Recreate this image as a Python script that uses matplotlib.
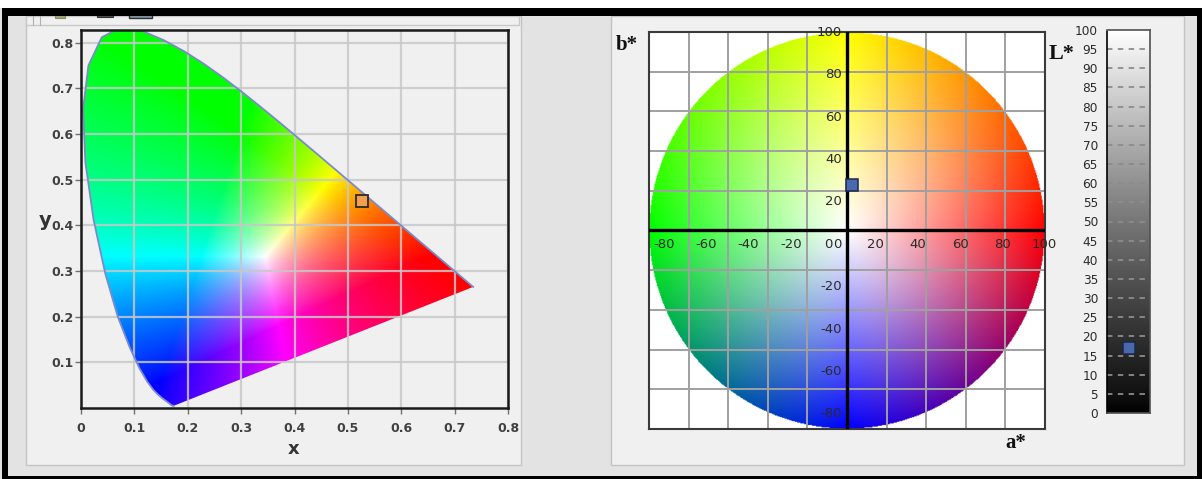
import numpy as np
import matplotlib
matplotlib.use("Agg")
import matplotlib.pyplot as plt
from matplotlib.patches import Rectangle, Polygon

# ---------------- data ----------------
# CIE 1931 spectral locus (380 nm .. 700 nm)
locus_x = [0.1741, 0.1740, 0.1738, 0.1736, 0.1733, 0.1730, 0.1726, 0.1721, 0.1714, 0.1703,
           0.1689, 0.1669, 0.1644, 0.1611, 0.1566, 0.1510, 0.1440, 0.1355, 0.1241, 0.1096,
           0.0913, 0.0687, 0.0454, 0.0235, 0.0082, 0.0039, 0.0139, 0.0389, 0.0743, 0.1142,
           0.1547, 0.1929, 0.2296, 0.2658, 0.3016, 0.3373, 0.3731, 0.4087, 0.4441, 0.4788,
           0.5125, 0.5448, 0.5752, 0.6029, 0.6270, 0.6482, 0.6658, 0.6801, 0.6915, 0.7006,
           0.7079, 0.7140, 0.7190, 0.7230, 0.7260, 0.7283, 0.7300, 0.7311, 0.7320, 0.7334,
           0.7347]
locus_y = [0.0050, 0.0050, 0.0049, 0.0049, 0.0048, 0.0048, 0.0048, 0.0048, 0.0051, 0.0058,
           0.0069, 0.0086, 0.0109, 0.0138, 0.0177, 0.0227, 0.0297, 0.0399, 0.0578, 0.0868,
           0.1327, 0.2007, 0.2950, 0.4127, 0.5384, 0.6548, 0.7502, 0.8120, 0.8338, 0.8262,
           0.8059, 0.7816, 0.7543, 0.7243, 0.6923, 0.6589, 0.6245, 0.5896, 0.5547, 0.5202,
           0.4866, 0.4544, 0.4242, 0.3965, 0.3725, 0.3514, 0.3340, 0.3197, 0.3083, 0.2993,
           0.2920, 0.2859, 0.2809, 0.2770, 0.2740, 0.2717, 0.2700, 0.2689, 0.2680, 0.2666,
           0.2653]
cie_xticks = [0, 0.1, 0.2, 0.3, 0.4, 0.5, 0.6, 0.7, 0.8]
cie_xticklabels = ["0", "0.1", "0.2", "0.3", "0.4", "0.5", "0.6", "0.7", "0.8"]
cie_yticks = [0.1, 0.2, 0.3, 0.4, 0.5, 0.6, 0.7, 0.8]
cie_yticklabels = ["0.1", "0.2", "0.3", "0.4", "0.5", "0.6", "0.7", "0.8"]
white_x, white_y = 0.345, 0.332
sample_x, sample_y = 0.527, 0.454

lab_grid = [-80, -60, -40, -20, 20, 40, 60, 80]
lab_labels = [-80, -60, -40, -20, 0, 20, 40, 60, 80, 100]
label_scale, label_offset = 1.068, -7.0      # label placement quirk of the original
sample_a, sample_b = 2.6, 23.0

L_ticks = [0, 5, 10, 15, 20, 25, 30, 35, 40, 45, 50, 55, 60, 65, 70, 75, 80, 85, 90, 95, 100]
L_dashes = [5, 10, 15, 20, 25, 30, 35, 40, 45, 50, 55, 60, 65, 70, 75, 80, 85, 90, 95]
sample_L = 17.0

# ---------------- figure ----------------
W, H = 1202, 479
fig = plt.figure(figsize=(W / 100, H / 100), dpi=100, facecolor="#e3e3e3")


def frect(x0, y0, x1, y1, **kw):
    fig.add_artist(Rectangle((x0 / W, 1 - y1 / H), (x1 - x0) / W, (y1 - y0) / H,
                             transform=fig.transFigure, **kw))


def px_axes(x0, y0, x1, y1):
    return fig.add_axes([x0 / W, 1 - y1 / H, (x1 - x0) / W, (y1 - y0) / H])


# panels
frect(26, 16, 521, 465, facecolor="#f0f0f0", edgecolor="#c4c4c4", lw=1, zorder=-10)
frect(611, 16, 1184, 465, facecolor="#f0f0f0", edgecolor="#c4c4c4", lw=1, zorder=-10)
frect(26, 16, 519, 25, facecolor="#f0f0f0", edgecolor="#c8c8c8", lw=1, zorder=-9)
fig.add_artist(plt.Line2D([33 / W, 33 / W], [1 - 16 / H, 1 - 25 / H], color="#b0b0b0", lw=0.8,
                          transform=fig.transFigure, zorder=-8))
fig.add_artist(plt.Line2D([40 / W, 40 / W], [1 - 16 / H, 1 - 25 / H], color="#b0b0b0", lw=0.8,
                          transform=fig.transFigure, zorder=-8))
# legend icons (mostly hidden under the frame)
frect(55, 10, 65, 18, facecolor="#a0a078", edgecolor="#8a8a60", lw=0.8, zorder=-7)
frect(97, 10, 113, 17, facecolor="#505050", edgecolor="#303030", lw=0.8, zorder=-7)
frect(129, 10, 152, 18, facecolor="#8090a0", edgecolor="#303030", lw=1.0, zorder=-7)
# window frame
frect(0, 0, W, 8, facecolor="white", edgecolor="none", zorder=-5)
frect(2, 8, W, 16, facecolor="black", edgecolor="none", zorder=-5)
frect(2, 8, 8, H, facecolor="black", edgecolor="none", zorder=-5)
frect(2, 476, W, H, facecolor="black", edgecolor="none", zorder=-5)
frect(1197, 8, W, H, facecolor="black", edgecolor="none", zorder=-5)


def srgb_gamma(c):
    c = np.clip(c, 0, 1)
    return np.where(c <= 0.0031308, 12.92 * c, 1.055 * np.power(c, 1 / 2.4) - 0.055)


# ---------------- CIE xy chart ----------------
ax1 = px_axes(81, 30, 508, 408)
ax1.set_facecolor("#f0f0f0")
ax1.set_xlim(0, 0.8)
ax1.set_ylim(0, 0.828)

M = np.array([[3.2406, -1.5372, -0.4986],
              [-0.9689, 1.8758, 0.0415],
              [0.0557, -0.2040, 1.0570]])


def xy_to_lin(x, y):
    return np.einsum("ij,j...->...i", M, np.stack([x / y, np.ones_like(x), (1 - x - y) / y]))


xs = np.linspace(0.0, 0.8, 500)
ys = np.linspace(0.001, 0.85, 520)
XX, YY = np.meshgrid(xs, ys)
rgb = xy_to_lin(XX, YY) / xy_to_lin(np.array(white_x), np.array(white_y))
rgb = np.clip(rgb, 0, None)
mx = rgb.max(axis=2, keepdims=True)
mx[mx == 0] = 1
rgb = np.clip(rgb / mx, 0, 1) ** 0.8
im = ax1.imshow(rgb, extent=[0, 0.8, 0.001, 0.85], origin="lower", aspect="auto",
                interpolation="bilinear", zorder=1)
poly = Polygon(np.column_stack([locus_x, locus_y]), closed=True, transform=ax1.transData,
               facecolor="none", edgecolor="none")
ax1.add_patch(poly)
im.set_clip_path(poly)
ax1.plot(locus_x, locus_y, color="#7c8ac8", lw=1.3, zorder=3)

ax1.set_xticks(cie_xticks)
ax1.set_xticklabels(cie_xticklabels)
ax1.set_yticks(cie_yticks)
ax1.set_yticklabels(cie_yticklabels)
ax1.grid(True, color="#c8c8c8", lw=1.6, alpha=0.85)
ax1.set_axisbelow(False)
for gl in ax1.get_xgridlines() + ax1.get_ygridlines():
    gl.set_zorder(2)
ax1.tick_params(axis="both", length=4, width=1, color="#707070", labelsize=9,
                labelcolor="#404040")
ax1.tick_params(axis="x", pad=6)
ax1.tick_params(axis="y", pad=1.5)
for lab in ax1.get_xticklabels() + ax1.get_yticklabels():
    lab.set_fontweight("bold")
for s in ax1.spines.values():
    s.set_color("#1a1a1a")
    s.set_linewidth(1.8)
    s.set_zorder(4)
ax1.plot([sample_x], [sample_y], marker="s", ms=8.5, mfc="#f0a050", mec="#2a2a2a",
         mew=1.3, zorder=5)
fig.text(294 / W, 1 - 449 / H, "x", ha="center", va="center", fontsize=13,
         fontweight="bold", color="#333333")
fig.text(45 / W, 1 - 221 / H, "y", ha="center", va="center", fontsize=14,
         fontweight="bold", color="#333333")

# ---------------- a*b* chart ----------------
ax2 = px_axes(649, 32, 1045, 429)
ax2.set_facecolor("white")
ax2.set_xlim(-100, 100)
ax2.set_ylim(-100, 100)
ax2.set_xticks([])
ax2.set_yticks([])

av = np.linspace(-100, 100, 500)
A, B = np.meshgrid(av, av)
R = np.hypot(A, B) / 100.0
TH = np.degrees(np.arctan2(B, A)) % 360
anchor_deg = [0, 90, 180, 270, 360]
anchor_rgb = np.array([[1, 0, 0], [1, 1, 0], [0, 1, 0], [0, 0, 1], [1, 0, 0]], float)
hue = np.stack([np.interp(TH, anchor_deg, anchor_rgb[:, k]) for k in range(3)], axis=-1)
Rc = np.clip(R, 0, 1)[..., None]
wheel = 1 - Rc * (1 - hue)
alpha = (R <= 1.0).astype(float)[..., None]
ax2.imshow(np.concatenate([wheel, alpha], axis=-1), extent=[-100, 100, -100, 100],
           origin="lower", aspect="auto", interpolation="bilinear", zorder=1)
for g in lab_grid:
    ax2.axvline(g, color="#a0a0a0", lw=1.4, zorder=2)
    ax2.axhline(g, color="#a0a0a0", lw=1.4, zorder=2)
ax2.axvline(0, color="black", lw=2.4, zorder=3)
ax2.axhline(0, color="black", lw=2.4, zorder=3)
for s in ax2.spines.values():
    s.set_color("#3a3a3a")
    s.set_linewidth(1.5)
b_label_x = -2.6
for v in lab_labels:
    p = label_offset + label_scale * v
    ax2.text(b_label_x, p, "%d" % v, ha="right", va="center", fontsize=9.5,
             color="#2a2a2a", zorder=4)
    if v == 0:
        # the a* zero sits directly left of the b* zero ("00" in the original)
        ax2.text(b_label_x - 4.5, label_offset, "0", ha="right", va="center",
                 fontsize=9.5, color="#2a2a2a", zorder=4)
    else:
        ax2.text(p, label_offset, "%d" % v, ha="center", va="center", fontsize=9.5,
                 color="#2a2a2a", zorder=4)
ax2.plot([sample_a], [sample_b], marker="s", ms=8.5, mfc="#4a68b0", mec="#1c2848",
         mew=1.1, zorder=5)
fig.text(627 / W, 1 - 45 / H, "b*", ha="center", va="center", fontsize=15,
         fontweight="bold", family="Liberation Serif", color="#111111")
fig.text(1016 / W, 1 - 443 / H, "a*", ha="center", va="center", fontsize=15,
         fontweight="bold", family="Liberation Serif", color="#111111")
fig.text(1062 / W, 1 - 54 / H, "L*", ha="center", va="center", fontsize=16,
         fontweight="bold", family="Liberation Serif", color="#111111")

# ---------------- L* bar ----------------
ax3 = px_axes(1107, 30, 1150, 413)
ax3.set_xlim(0, 1)
ax3.set_ylim(0, 100)
Lv = np.linspace(0, 100, 400)
Yl = np.where(Lv > 8, ((Lv + 16) / 116) ** 3, Lv / 903.3)
gray = srgb_gamma(Yl)
ax3.imshow(np.repeat(gray[:, None, None], 3, axis=2), extent=[0, 1, 0, 100], origin="lower",
           aspect="auto", interpolation="bilinear", zorder=1)
ax3.hlines(L_dashes, 0, 1, colors="#8c8c8c", linestyles=(0, (3, 3)), lw=1.3, zorder=2)
ax3.set_xticks([])
ax3.set_yticks(L_ticks)
ax3.set_yticklabels([str(t) for t in L_ticks])
ax3.tick_params(axis="y", length=0, pad=6.5, labelsize=8.7, labelcolor="#2a2a2a")
for k, s in ax3.spines.items():
    s.set_color("#505050")
    s.set_linewidth(1.2)
ax3.spines["left"].set_linestyle((0, (1, 1)))
ax3.spines["left"].set_color("black")
ax3.plot([0.5], [sample_L], marker="s", ms=8, mfc="#4a68b0", mec="#1c2848", mew=1.1,
         zorder=5)

fig.savefig("out.png", dpi=100, facecolor=fig.get_facecolor())
